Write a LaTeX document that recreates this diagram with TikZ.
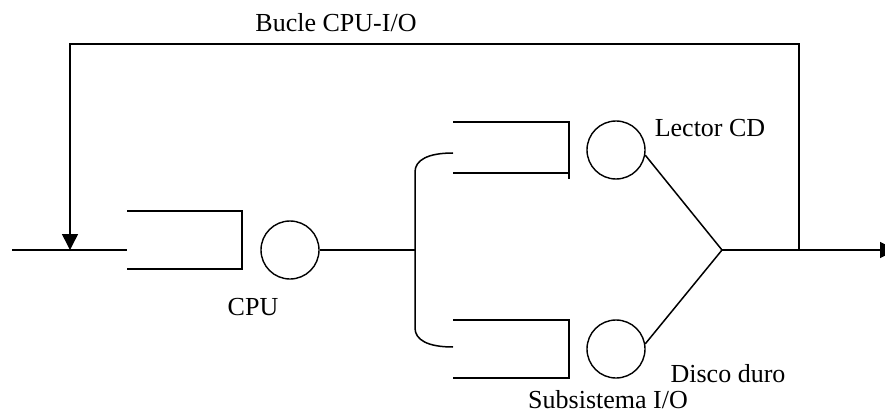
\documentclass[tikz,border=0pt]{standalone}
\usepackage{fontspec}
\setmainfont{Liberation Serif}
\usetikzlibrary{arrows.meta}
\begin{document}
\begin{tikzpicture}[x=1pt,y=-1pt,line width=1.5pt,
  server/.style={circle,draw,minimum size=58pt,inner sep=0pt,line width=1.4pt},
  lbl/.style={anchor=base,font=\fontsize{26}{31}\selectfont,inner sep=0pt},
  tipped/.style={-{Triangle[length=16pt,width=16pt]}}]
\useasboundingbox (0,0) rectangle (885,414);
\clip (0,0) rectangle (885,414);
% queues
\draw (127,211) -- (242,211) -- (242,269) -- (127,269);
\draw (453,122) -- (569,122) -- (569,179);
\draw (453,173) -- (569,173);
\draw (453,320) -- (569,320) -- (569,378) -- (453,378);
% servers
\node[server] (cpu) at (290,250) {};
\node[server] (cd) at (616,150) {};
\node[server] (hd) at (616,349) {};
% points
\coordinate (in) at (12,250);
\coordinate (cq) at (127,250);
\coordinate (fork) at (415,250);
\coordinate (ftop) at (415,172);
\coordinate (fbot) at (415,328);
\coordinate (utop) at (453,153);
\coordinate (ubot) at (453,347);
\coordinate (join) at (722,250);
\coordinate (tap) at (799,250);
\coordinate (out) at (896,250);
\coordinate (c1) at (799,44);
\coordinate (c2) at (70,44);
\coordinate (fb) at (70,250);
% connectors
\draw (in) -- (cq);
\draw (cpu.east) -- (fork);
\draw (utop) .. controls (428,153) and (415,160) .. (ftop) -- (fbot) .. controls (415,340) and (428,347) .. (ubot);
\draw (cd.-10) -- (join) -- (hd.10);
\draw[tipped] (join) -- (out);
\draw[tipped] (tap) -- (c1) -- (c2) -- (fb);
% labels
\node[lbl] (tloop) at (336,32) {Bucle CPU-I/O};
\node[lbl] (tcpu) at (253,315) {CPU};
\node[lbl] (tcd) at (710,137) {Lector CD};
\node[lbl] (thd) at (728,382) {Disco duro};
\node[lbl] (tsub) at (608,408) {Subsistema I/O};
\end{tikzpicture}
\end{document}
